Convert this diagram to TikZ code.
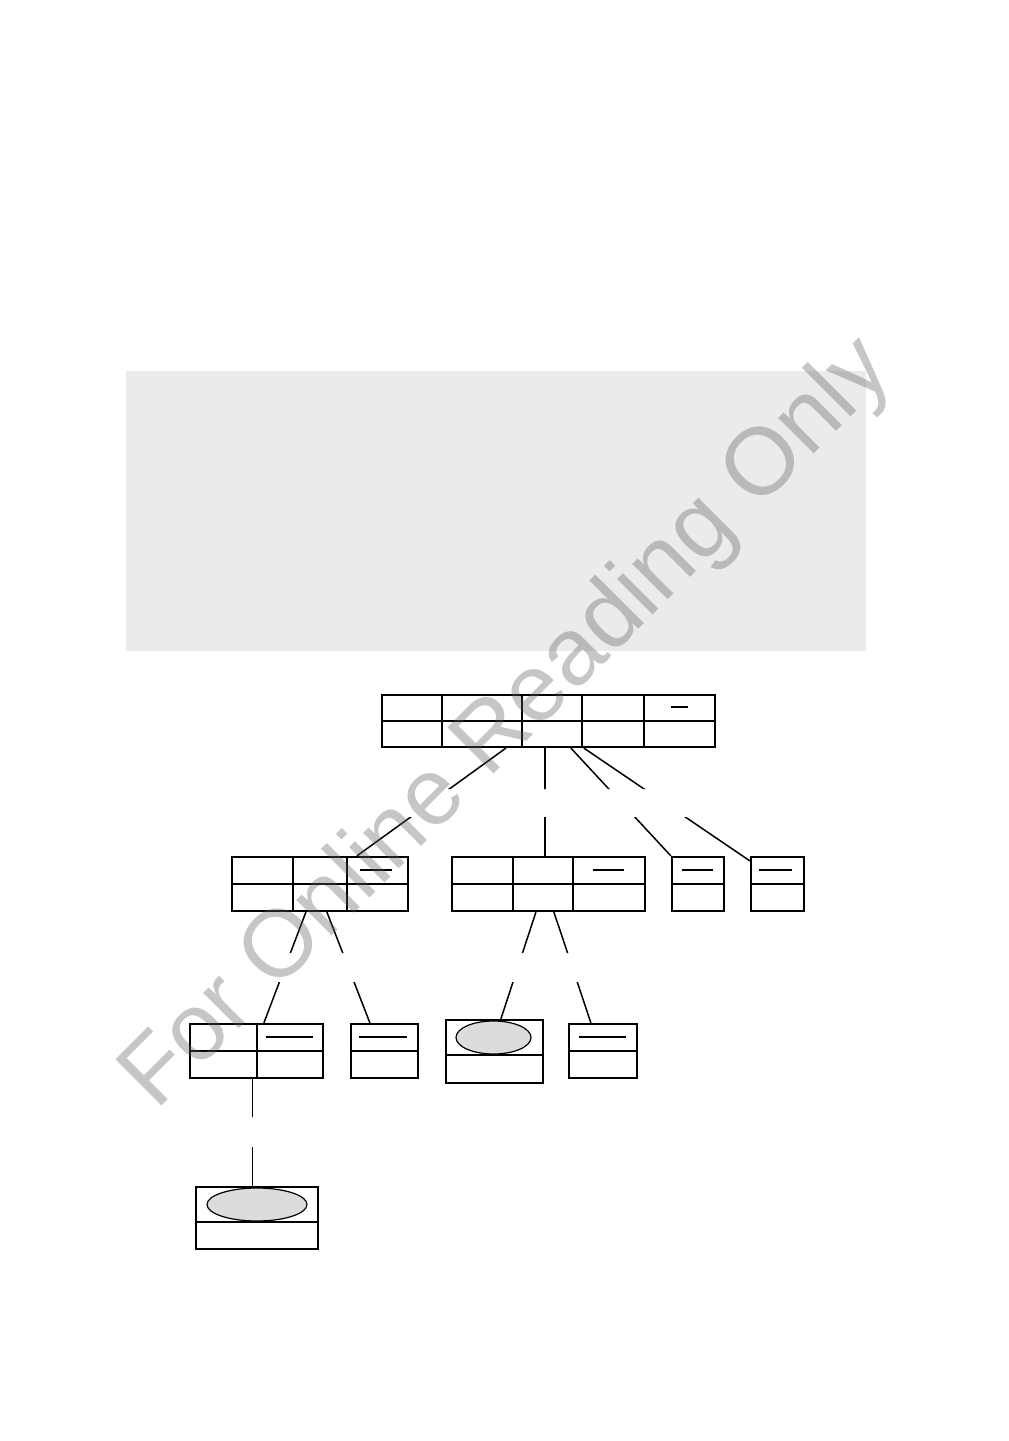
\documentclass[tikz,border=0pt]{standalone}
\usepackage{fontspec}
\newfontfamily\wmfont{Liberation Sans}
\usepackage{tikz}
\usetikzlibrary{shapes.geometric}
\definecolor{panelgray}{RGB}{235,235,235}
\definecolor{markgray}{RGB}{92,92,92}
\definecolor{blobgray}{RGB}{220,220,220}
\tikzstyle{box} = [draw, rectangle, line width=2.2pt, inner sep=0pt]
\tikzstyle{line} = [draw, line width=1.5pt]
\begin{document}
\begin{tikzpicture}[x=1pt, y=-1pt,
  blob/.style={draw, ellipse, fill=blobgray, line width=1.2pt, inner sep=0pt},
  bar/.style={line width=2pt}]
  \useasboundingbox (0,0) rectangle (1009,1441);
  \fill [panelgray] (126,371) rectangle (866,651);
  %% the tree
  \node [box, minimum width=333pt, minimum height=52pt] (root) at (548.5,721) {};
  \node [box, minimum width=176pt, minimum height=54pt] (L) at (320,884) {};
  \node [box, minimum width=193pt, minimum height=54pt] (M) at (548.5,884) {};
  \node [box, minimum width=52pt, minimum height=54pt] (A) at (698,884) {};
  \node [box, minimum width=53pt, minimum height=54pt] (B) at (777.5,884) {};
  \node [box, minimum width=133pt, minimum height=54pt] (LL) at (256.5,1051) {};
  \node [box, minimum width=67pt, minimum height=54pt] (LM) at (384.5,1051) {};
  \node [box, minimum width=97pt, minimum height=63pt] (ME) at (494.5,1051.5) {};
  \node [box, minimum width=68pt, minimum height=54pt] (MR) at (603,1051) {};
  \node [box, minimum width=122pt, minimum height=62pt] (LLL) at (257,1218) {};
  \node [blob, minimum width=75pt, minimum height=33pt] (MEe) at (493.5,1037.5) {};
  \node [blob, minimum width=100pt, minimum height=33pt] (LLLe) at (257,1204.5) {};
  %% cells
  \foreach \n in {root,L,M,A,B,LL,LM,MR}
    \draw [line width=2.2pt] (\n.west) -- (\n.east);
  \foreach \n in {ME,LLL}
    \draw [line width=2.2pt] ([shift={(0,36)}]\n.north west) -- ([shift={(0,36)}]\n.north east);
  \foreach \x in {61,141,201,263}
    \draw [line width=2.2pt] ([xshift=\x pt]root.north west) -- ([xshift=\x pt]root.south west);
  \foreach \x in {62,116}
    \draw [line width=2.2pt] ([xshift=\x pt]L.north west) -- ([xshift=\x pt]L.south west);
  \foreach \x in {62,122}
    \draw [line width=2.2pt] ([xshift=\x pt]M.north west) -- ([xshift=\x pt]M.south west);
  \draw [line width=2.2pt] ([xshift=68pt]LL.north west) -- ([xshift=68pt]LL.south west);
  %% bars
  \draw [bar] ([shift={(290,13)}]root.north west) -- ([shift={(307,13)}]root.north west);
  \draw [bar] ([shift={(129,14)}]L.north west) -- ([shift={(161,14)}]L.north west);
  \draw [bar] ([shift={(142,14)}]M.north west) -- ([shift={(173,14)}]M.north west);
  \draw [bar] ([shift={(11,14)}]A.north west) -- ([shift={(42,14)}]A.north west);
  \draw [bar] ([shift={(9,14)}]B.north west) -- ([shift={(42,14)}]B.north west);
  \draw [bar] ([shift={(77,14)}]LL.north west) -- ([shift={(124,14)}]LL.north west);
  \draw [bar] ([shift={(9,14)}]LM.north west) -- ([shift={(57,14)}]LM.north west);
  \draw [bar] ([shift={(11,14)}]MR.north west) -- ([shift={(58,14)}]MR.north west);
  %% Links, broken in the middle
  \begin{scope}
    \clip (0,0) rectangle (1009,789) (0,817) rectangle (1009,953)
          (0,982) rectangle (1009,1117) (0,1147) rectangle (1009,1441);
    \path [line] ([xshift=125pt]root.south west) to ([xshift=126pt]L.north west);
    \path [line] ([xshift=164pt]root.south west) to ([xshift=94pt]M.north west);
    \path [line] ([xshift=190pt]root.south west) to (A.north west);
    \path [line] ([xshift=203pt]root.south west) to ([shift={(0,5)}]B.north west);
    \path [line] ([xshift=75pt]L.south west) to ([xshift=75pt]LL.north west);
    \path [line] ([xshift=96pt]L.south west) to ([xshift=20pt]LM.north west);
    \path [line] ([xshift=85pt]M.south west) to ([xshift=56pt]ME.north west);
    \path [line] ([xshift=103pt]M.south west) to ([xshift=23pt]MR.north west);
    \draw [line width=1pt] ([xshift=64pt]LL.south west) -- ([xshift=58pt]LLL.north west);
  \end{scope}
  %% watermark
  \node [rotate=45, anchor=base west, inner sep=0pt, text=markgray, opacity=.35,
    font=\wmfont\fontsize{95}{100}\selectfont] (wm) at (156,1112)
  {For Online Reading Only};
\end{tikzpicture}
\end{document}
